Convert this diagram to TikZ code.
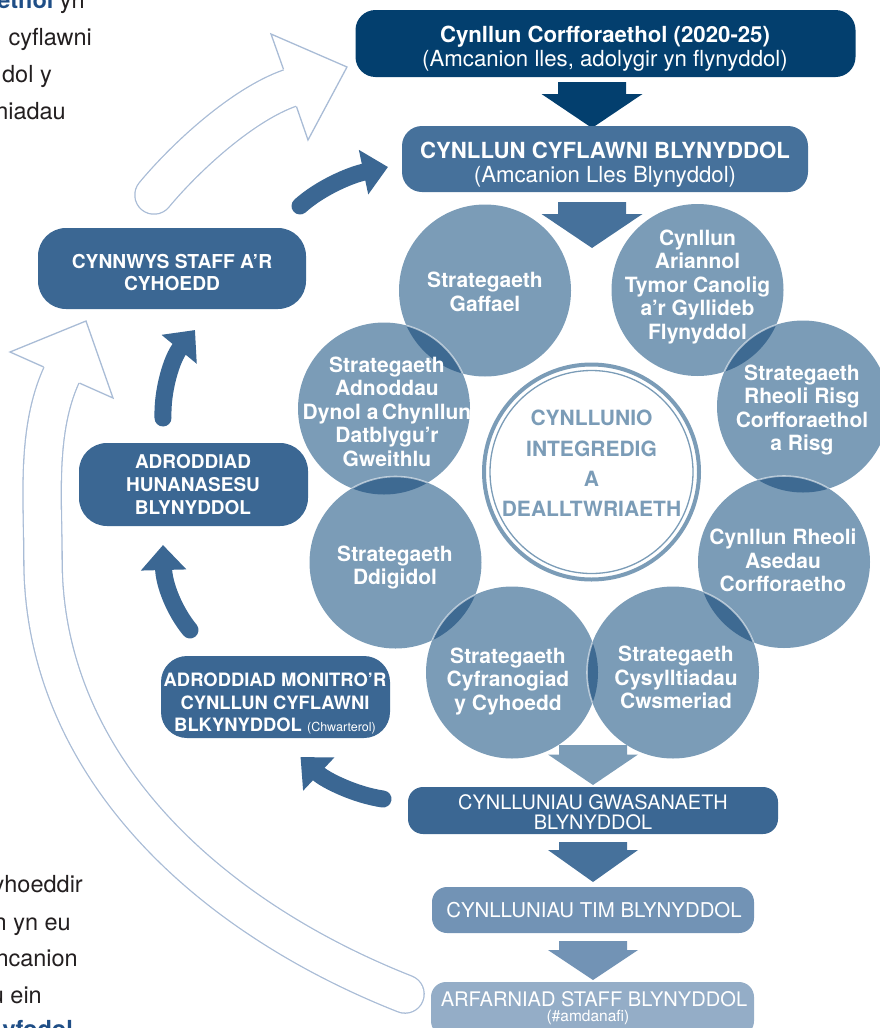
\documentclass[tikz,border=0pt]{standalone}
\usepackage{fontspec}
\setmainfont{TeX Gyre Heros}
\usetikzlibrary{arrows.meta}
\definecolor{navy}{HTML}{033F6E}
\definecolor{blueB}{HTML}{46719B}
\definecolor{blueC}{HTML}{3B6793}
\definecolor{circ}{HTML}{7B9CB7}
\definecolor{circdark}{HTML}{3E6A92}
\definecolor{timbox}{HTML}{7293B5}
\definecolor{arfbox}{HTML}{94ADC7}
\definecolor{outline}{HTML}{A9BCD6}
\definecolor{bodytext}{HTML}{231F20}
\definecolor{boldblue}{HTML}{1F4E86}
\tikzset{
  pics/blockarrow/.style n args={4}{code={\path[pic actions] (-#1,0) -- (#1,0) -- (#1,#3) -- (#2,#3) -- (0,#4) -- (-#2,#3) -- (-#1,#3) -- cycle;}},
  panel/.style={rectangle, inner sep=0pt, draw=none},
  ptext/.style={text=white, align=center, inner sep=0pt},
  bubble/.style={circle, fill=circ, minimum size=172pt, inner sep=0pt, draw=none},
  btext/.style={text=white, align=center, inner sep=0pt, font=\fontsize{21}{23.5}\selectfont\bfseries},
  rim/.style={draw=white, draw opacity=0.55, line width=1.6pt},
  solidarr/.style={draw=blueC, line width=17pt, line cap=round, -{Triangle[width=44pt,length=25pt]}},
  hollow/.style={draw=outline, line width=1.3pt, double=white, double distance=37pt, line cap=round},
  hollowhead/.style={fill=white, draw=outline, line width=1.3pt, line join=miter},
  sidetext/.style={anchor=base east, inner sep=0pt, text=bodytext, font=\fontsize{23.5}{27}\selectfont}
}
\begin{document}
\begin{tikzpicture}[x=1pt,y=-1pt]
\useasboundingbox (0,0) rectangle (880,1028);
\clip (0,0) rectangle (880,1028);

% hollow (outline) arrows
\coordinate (h1a) at (154,195);
\coordinate (h1b) at (290,88);
\draw[hollow] (h1a) .. controls (186,156.5) and (242.8,104.5) .. (h1b);
\path[hollowhead] (283.5,69.3) -- (271,34) -- (347,67) -- (308,140) -- (296.5,106.7);

\coordinate (h2a) at (405,994);
\coordinate (h2b) at (61.5,375);
\draw[hollow] (h2a) .. controls (200,913) and (43,760) .. (43,560) .. controls (43,500) and (36,431) .. (h2b);
\path[hollowhead] (43.5,366.9) -- (10,352) -- (86,321) -- (113,398) -- (79.5,383.1);

% block arrows
\pic[fill=navy] at (592,82) {blockarrow={34}{50.5}{12}{46}};
\pic[fill=blueB] at (592,202) {blockarrow={34}{50.5}{12}{46}};
\pic[fill=circ] at (593,745) {blockarrow={34}{45}{9.5}{40}};
\pic[fill=blueB] at (593,842) {blockarrow={34}{45}{8}{40}};
\pic[fill=timbox] at (593,941) {blockarrow={34}{45}{9}{39}};

% boxes
\node[panel, fill=navy, rounded corners=20pt, minimum width=500pt, minimum height=67pt] (corp) at (605.5,43.5) {};
\node[panel, fill=blueB, rounded corners=20pt, minimum width=406pt, minimum height=66pt] (annual) at (605,159) {};
\node[panel, fill=blueC, rounded corners=28pt, minimum width=268pt, minimum height=81pt] (involve) at (172,268.5) {};
\node[panel, fill=blueC, rounded corners=28pt, minimum width=229pt, minimum height=83pt] (selfassess) at (193.5,484.5) {};
\node[panel, fill=blueC, rounded corners=26pt, minimum width=229pt, minimum height=82pt] (monitor) at (275.5,697) {};
\node[panel, fill=blueC, rounded corners=15pt, minimum width=370pt, minimum height=47pt] (service) at (593,810.5) {};
\node[panel, fill=timbox, rounded corners=15pt, minimum width=322pt, minimum height=46pt] (team) at (593,910) {};
\node[panel, fill=arfbox, rounded corners=15pt, minimum width=323pt, minimum height=54pt] (staff) at (592.5,1009) {};

\node[ptext, font=\fontsize{22.2}{24.5}\selectfont] (corpT) at (605,48.6) {\textbf{Cynllun Corfforaethol (2020-25)}\\(Amcanion lles, adolygir yn flynyddol)};
\node[ptext, font=\fontsize{22.2}{23.4}\selectfont] (annualT) at (605,164.5) {\textbf{CYNLLUN CYFLAWNI BLYNYDDOL}\\(Amcanion Lles Blynyddol)};
\node[ptext, font=\fontsize{19.2}{22.4}\selectfont\bfseries] (involveT) at (172,272.4) {CYNNWYS STAFF A’R\\CYHOEDD};
\node[ptext, font=\fontsize{19}{23}\selectfont\bfseries] (selfT) at (193,484.9) {ADRODDIAD\\HUNANASESU\\BLYNYDDOL};
\node[ptext, font=\fontsize{18.4}{22.3}\selectfont\bfseries] (monT) at (275,703.5) {ADRODDIAD MONITRO’R\\CYNLLUN CYFLAWNI\\BLKYNYDDOL {\fontsize{12.5}{12.5}\selectfont\mdseries(Chwarterol)}};
\node[ptext, font=\fontsize{19.9}{20}\selectfont] (serviceT) at (593,812.5) {CYNLLUNIAU GWASANAETH\\BLYNYDDOL};
\node[ptext, font=\fontsize{20.4}{24}\selectfont] (teamT) at (594,909.7) {CYNLLUNIAU TIM BLYNYDDOL};
\node[ptext, font=\fontsize{20.1}{24}\selectfont] (staffT) at (594,998.7) {ARFARNIAD STAFF BLYNYDDOL};
\node[ptext, font=\fontsize{15.5}{18}\selectfont] (staffT2) at (588,1017) {(\#amdanafi)};

% strategy circles
\node[bubble] (c1) at (485,290.5) {};
\node[bubble] (c2) at (697.5,290) {};
\node[bubble] (c3) at (803,406.5) {};
\node[bubble] (c4) at (384,408.5) {};
\node[bubble] (c5) at (395.5,562.5) {};
\node[bubble] (c6) at (784,562) {};
\node[bubble] (c7) at (512,672.5) {};
\node[bubble] (c8) at (673,672.5) {};

\foreach \u/\o in {c1/c4, c2/c3, c4/c5, c3/c6, c5/c7, c6/c8, c7/c8} {
  \begin{scope}
    \clip (\u.center) circle[radius=86pt];
    \fill[circdark] (\o.center) circle[radius=86pt];
    \draw[rim] (\o.center) circle[radius=86pt];
  \end{scope}
}

\node[btext] (t1) at (485,292) {Strategaeth\\Gaffael};
\node[btext] (t2) at (697.5,287) {Cynllun\\Ariannol\\Tymor Canolig\\a’r Gyllideb\\Flynyddol};
\node[btext] (t3) at (802,410) {Strategaeth\\Rheoli Risg\\Corfforaethol\\a Risg};
\node[btext] (t4) at (387,411.5) {Strategaeth\\Adnoddau\\Dynol a\hspace{-0.12em} Chynllun\\Datblygu’r\\Gweithlu};
\node[btext] (t5) at (395,567.5) {Strategaeth\\Ddigidol};
\node[btext] (t6) at (783,560.5) {Cynllun Rheoli\\Asedau\\Corfforaetho};
\node[btext] (t7) at (508,681.5) {Strategaeth\\Cyfranogiad\\y Cyhoedd};
\node[btext] (t8) at (676,677.5) {Strategaeth\\Cysylltiadau\\Cwsmeriad};

% centre
\node[circle, draw=circ, line width=4pt, minimum size=215pt, inner sep=0pt] (core) at (591.5,472) {};
\draw[circ, line width=1.3pt] (core.center) circle[radius=101.5pt];
\node[text=circ, align=center, inner sep=0pt, font=\fontsize{21}{30.3}\selectfont\bfseries] (coreT) at (591.5,463.5) {CYNLLUNIO\\INTEGREDIG\\A\\DEALLTWRIAETH};

% solid curved arrows
\coordinate (s1a) at (300,206);
\coordinate (s1b) at (388,167);
\draw[solidarr] (s1a) .. controls (320,188) and (350,175) .. (s1b);
\coordinate (s2a) at (163,418);
\coordinate (s2b) at (195,330);
\draw[solidarr] (s2a) .. controls (162,390) and (172,358) .. (s2b);
\coordinate (s3a) at (190,630);
\coordinate (s3b) at (163,545);
\draw[solidarr] (s3a) .. controls (175,612) and (164,585) .. (s3b);
\coordinate (s4a) at (383,799);
\coordinate (s4b) at (300.5,757);
\draw[solidarr] (s4a) .. controls (355,795) and (325,780) .. (s4b);

% page text fragments
\node[sidetext] (l1) at (85,8) {\textbf{\color{boldblue}ethol} yn};
\node[sidetext] (l2) at (92,45.5) {cyflawni};
\node[sidetext] (l3) at (52,82.5) {dol y};
\node[sidetext] (l4) at (66,119) {niadau};
\node[sidetext] (l5) at (83,892.7) {yhoeddir};
\node[sidetext] (l6) at (71,930) {n yn eu};
\node[sidetext] (l7) at (78,966.7) {ncanion};
\node[sidetext] (l8) at (42,1003) {u ein};
\node[sidetext] (l9) at (73,1037) {\textbf{\color{boldblue}yfodol}};
\end{tikzpicture}
\end{document}
